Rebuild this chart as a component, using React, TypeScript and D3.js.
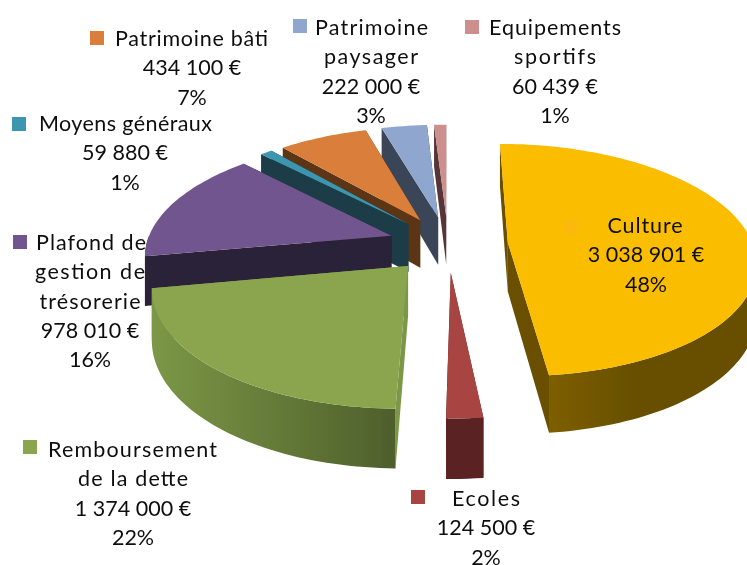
import React from 'react';
import * as d3 from 'd3';

// budget split
const categories = ['Culture', 'Ecoles', 'Remboursement de la dette', 'Plafond de gestion de trésorerie', 'Moyens généraux', 'Patrimoine bâti', 'Patrimoine paysager', 'Equipements sportifs'];
const values = [3038901, 124500, 1374000, 978010, 59880, 434100, 222000, 60439];
const amounts = ['3 038 901 €', '124 500 €', '1 374 000 €', '978 010 €', '59 880 €', '434 100 €', '222 000 €', '60 439 €'];
const percents = ['48%', '2%', '22%', '16%', '1%', '7%', '3%', '1%'];
const nameLines = [['Culture'], ['Ecoles'], ['Remboursement', 'de la dette'], ['Plafond de', 'gestion de', 'trésorerie'], ['Moyens généraux'], ['Patrimoine bâti'], ['Patrimoine', 'paysager'], ['Equipements', 'sportifs']];

const topColors = ['#fbbd00', '#a84442', '#8aa54e', '#71558e', '#3d96b0', '#d97f3a', '#8fa6cf', '#cd8e8e'];
const swatchColors = ['#fbb908', '#a84442', '#8aa54e', '#71558e', '#3d96b0', '#d97f3a', '#8fa6cf', '#cd8e8e'];
const wallColors = ['#6a5000', '#5a2121', '#7c9746', '#2c2038', '#1b3c46', '#5c3513', '#3b4558', '#553437'];
const rimEnds = ['#7d5e00', '#5a2121', '#7c9746', '#2c2038', '#1b3c46', '#5c3513', '#3b4558', '#553437'];
const rimDark = ['#685000', '#5a2121', '#4e5f2c', '#2c2038', '#1b3c46', '#5c3513', '#3b4558', '#553437'];

// where each label block sits: swatch corner, first line start, centre of the rest, first baseline
const labelLayout = [
  { sx: 563, sy: 220, nameX: 645, cx: 646, y: 233, anchor: 'middle' },
  { sx: 411, sy: 490, nameX: 452, cx: 486, y: 506, anchor: 'start' },
  { sx: 23, sy: 440, nameX: 48, cx: 133, y: 457, anchor: 'start' },
  { sx: 13, sy: 235, nameX: 36, cx: 90, y: 250, anchor: 'start' },
  { sx: 12, sy: 117, nameX: 39, cx: 125, y: 131, anchor: 'start' },
  { sx: 90, sy: 31, nameX: 115, cx: 192, y: 46, anchor: 'start' },
  { sx: 293, sy: 19, nameX: 315, cx: 371, y: 35, anchor: 'start' },
  { sx: 465, sy: 20, nameX: 489, cx: 555, y: 35, anchor: 'start' },
];
// the source spaces its name lines wider than the numbers
const nameWidths = [[75], [68], [169, 110], [110, 110, 101], [173], [153], [113, 94], [132, 82]];

const width = 747;
const height = 565;
const cx = 448;
const cy = 244;
const radius = 245;
const squash = 0.465;
const persp = 0.151;
const explode = 60;
const depth = 49;
const rad = Math.PI / 180;

const pie = d3.pie<number>().sort(null).startAngle(0).endAngle(360 * rad);
const arcs = pie(values);
const line = d3.line();

// flat pie coords -> screen, near side gets bigger
function project(u: number, v: number, z: number): [number, number] {
  const s = 1 / (1 - (persp * v) / radius);
  return [cx + s * u, cy + s * squash * v + s * z];
}

function sampleAngles(a0: number, a1: number) {
  const step = 1.5 * rad;
  return [...d3.range(a0, a1, step), a1];
}

function sliceParts(a0: number, a1: number) {
  const mid = (a0 + a1) / 2;
  const ox = explode * Math.sin(mid);
  const oy = -explode * Math.cos(mid);
  const rim = (a: number, z: number) => project(ox + radius * Math.sin(a), oy - radius * Math.cos(a), z);
  const apexTop = project(ox, oy, 0);
  const apexBottom = project(ox, oy, depth);
  const top = [apexTop, ...sampleAngles(a0, a1).map((a) => rim(a, 0))];
  const startWall = [apexTop, rim(a0, 0), rim(a0, depth), apexBottom];
  const endWall = [apexTop, rim(a1, 0), rim(a1, depth), apexBottom];
  // only the part of the rim turned to the viewer
  const r0 = Math.max(a0, 90 * rad);
  const r1 = Math.min(a1, 270 * rad);
  let rimWall: [number, number][] | null = null;
  if (r1 > r0) {
    const angles = sampleAngles(r0, r1);
    rimWall = [...angles.map((a) => rim(a, 0)), ...angles.slice().reverse().map((a) => rim(a, depth))];
  }
  return { top, startWall, endWall, rimWall };
}

const fontFamily = 'Lato, Carlito, sans-serif';
const fontSize = 21.5;

function Label({ i }: { i: number }) {
  const l = labelLayout[i];
  const names = nameLines[i];
  const step = 29.3;
  const rest = [...names.slice(1), amounts[i], percents[i]];
  return (
    <g fontFamily={fontFamily} fontSize={fontSize} fill="#111">
      <rect x={l.sx} y={l.sy} width={14} height={14} fill={swatchColors[i]} />
      <text x={l.nameX} y={l.y} textAnchor={l.anchor} textLength={nameWidths[i][0]} lengthAdjust="spacing">{names[0]}</text>
      {rest.map((t, k) => (
        <text
          key={k}
          x={l.cx}
          y={l.y + step * (k + 1)}
          textAnchor="middle"
          textLength={k < names.length - 1 ? nameWidths[i][k + 1] : undefined}
          lengthAdjust="spacing"
        >
          {t}
        </text>
      ))}
    </g>
  );
}

export default function App() {
  const order = d3.range(arcs.length).reverse();
  return (
    <svg width={width} height={height} style={{ position: 'absolute', left: 0, top: 0, display: 'block', background: '#fff' }}>
      <title>{categories.join(', ')}</title>
      <defs>
        <filter id="soft" x="-5%" y="-5%" width="110%" height="110%">
          <feGaussianBlur stdDeviation="0.45" />
        </filter>
        {categories.map((_, i) => (
          <linearGradient key={i} id={`rim${i}`} x1="0" x2="1" y1="0" y2="0">
            <stop offset="0" stopColor={rimEnds[i]} />
            <stop offset="1" stopColor={rimDark[i]} />
          </linearGradient>
        ))}
        <linearGradient id="rimCulture" x1="1" x2="0" y1="0" y2="0">
          <stop offset="0" stopColor={rimDark[0]} />
          <stop offset="0.6" stopColor={rimDark[0]} />
          <stop offset="1" stopColor={rimEnds[0]} />
        </linearGradient>
      </defs>
      <g filter="url(#soft)">
        {order.map((i) => {
          const p = sliceParts(arcs[i].startAngle, arcs[i].endAngle);
          return (
            <g key={i}>
              <path d={line(p.endWall) + 'Z'} fill={wallColors[i]} />
              <path d={line(p.startWall) + 'Z'} fill={wallColors[i]} />
              {p.rimWall && <path d={line(p.rimWall) + 'Z'} fill={i === 0 ? 'url(#rimCulture)' : `url(#rim${i})`} />}
              <path d={line(p.top) + 'Z'} fill={topColors[i]} />
            </g>
          );
        })}
        {d3.range(arcs.length).map((i) => <Label key={i} i={i} />)}
      </g>
    </svg>
  );
}
